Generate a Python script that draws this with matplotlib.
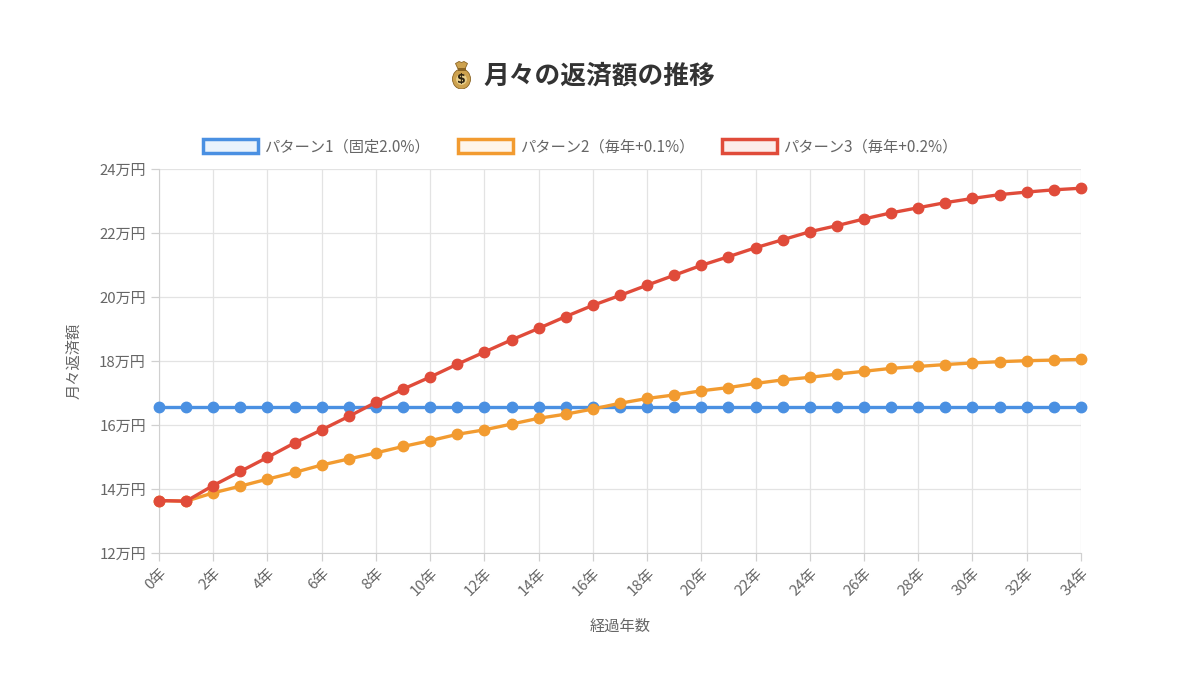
import matplotlib
matplotlib.use("Agg")
import matplotlib.pyplot as plt
from matplotlib.patches import Patch, Ellipse, Polygon, Rectangle, Circle

plt.rcParams['font.family'] = ['Noto Sans CJK JP', 'DejaVu Sans']

years = list(range(0, 35))
x_labels = [f"{y}年" for y in years]
y_ticks = [12, 14, 16, 18, 20, 22, 24]
y_tick_labels = [f"{v}万円" for v in y_ticks]

title_text = "月々の返済額の推移"
series_names = ["パターン1（固定2.0%）", "パターン2（毎年+0.1%）", "パターン3（毎年+0.2%）"]

pattern1 = [16.55] * 35
pattern2 = [13.64, 13.62, 13.88, 14.09, 14.31, 14.52, 14.75, 14.94, 15.13, 15.33,
            15.51, 15.71, 15.85, 16.03, 16.21, 16.34, 16.50, 16.68, 16.83, 16.94,
            17.07, 17.17, 17.30, 17.41, 17.49, 17.59, 17.68, 17.77, 17.83, 17.89,
            17.94, 17.98, 18.01, 18.03, 18.05]
pattern3 = [13.64, 13.62, 14.11, 14.55, 14.99, 15.44, 15.85, 16.27, 16.71, 17.12,
            17.50, 17.90, 18.28, 18.66, 19.02, 19.39, 19.74, 20.05, 20.37, 20.68,
            20.99, 21.26, 21.54, 21.79, 22.04, 22.23, 22.44, 22.63, 22.79, 22.95,
            23.08, 23.20, 23.28, 23.35, 23.40]

colors = ["#4A90E2", "#F29B30", "#E04B3A"]
fills = ["#EAF3FC", "#FEF5EA", "#FCECEA"]

fig = plt.figure(figsize=(12, 6.75), dpi=100)
ax = fig.add_axes([0.1325, 0.1807, 0.7683, 0.5689])

for vals, c in zip([pattern1, pattern2, pattern3], colors):
    ax.plot(years, vals, color=c, linewidth=2.4, marker='o', markersize=7.5,
            markerfacecolor=c, markeredgecolor=c, zorder=3, clip_on=False)

ax.set_xlim(0, 34)
ax.set_ylim(12, 24)
ax.set_yticks(y_ticks)
ax.set_yticklabels(y_tick_labels)
xt = years[::2]
ax.set_xticks(xt)
ax.set_xticklabels([x_labels[i] for i in xt], rotation=45, ha='right', rotation_mode='anchor')

ax.grid(True, color='#E3E3E3', linewidth=0.9)
ax.set_axisbelow(True)
for s in ['top', 'right']:
    ax.spines[s].set_visible(False)
for s in ['left', 'bottom']:
    ax.spines[s].set_color('#D0D0D0')
ax.tick_params(axis='both', colors='#D0D0D0', labelcolor='#666666', labelsize=10.8, length=6, width=0.9)

ax.set_xlabel("経過年数", fontsize=11, color='#666666', labelpad=14)
ax.set_ylabel("月々返済額", fontsize=11, color='#666666', labelpad=12)

# title text
fig.text(483 / 1200, 1 - 76 / 675, title_text, ha='left', va='center', fontsize=18.5,
         fontweight='bold', color='#333333')

# money-bag icon (emoji not available in installed fonts)
iax = fig.add_axes([452 / 1200, 1 - 89 / 675, 19 / 1200, 29 / 675])
iax.set_xlim(0, 19)
iax.set_ylim(0, 29)
iax.axis('off')
gold = '#CDA24F'
dark = '#8A6424'
iax.add_patch(Polygon([[6.5, 19], [12.5, 19], [15.5, 25.5], [12, 27.5], [9.5, 26.5], [7, 27.5], [3.5, 25.5]],
                      closed=True, facecolor=gold, edgecolor=dark, linewidth=0.6))
iax.add_patch(Ellipse((9.5, 10), 18, 20, facecolor=gold, edgecolor=dark, linewidth=0.6))
iax.add_patch(Rectangle((5.5, 18.5), 8, 2.2, facecolor=dark, edgecolor='none'))
iax.add_patch(Circle((9.5, 9.5), 5.4, facecolor='#E8CF8A', edgecolor='none'))
iax.text(9.5, 9.5, "$", ha='center', va='center', fontsize=9, fontweight='bold',
         color='#2B2110', family='DejaVu Sans')

handles = [Patch(facecolor=f, edgecolor=c, linewidth=2.5) for c, f in zip(colors, fills)]
leg = fig.legend(handles, series_names, loc='center', bbox_to_anchor=(0.4835, 1 - 147 / 675), ncol=3,
                 frameon=False, fontsize=11, handlelength=3.6, handleheight=1.05,
                 handletextpad=0.45, columnspacing=1.8)
for t in leg.get_texts():
    t.set_color('#666666')

fig.savefig("out.png", dpi=100)
